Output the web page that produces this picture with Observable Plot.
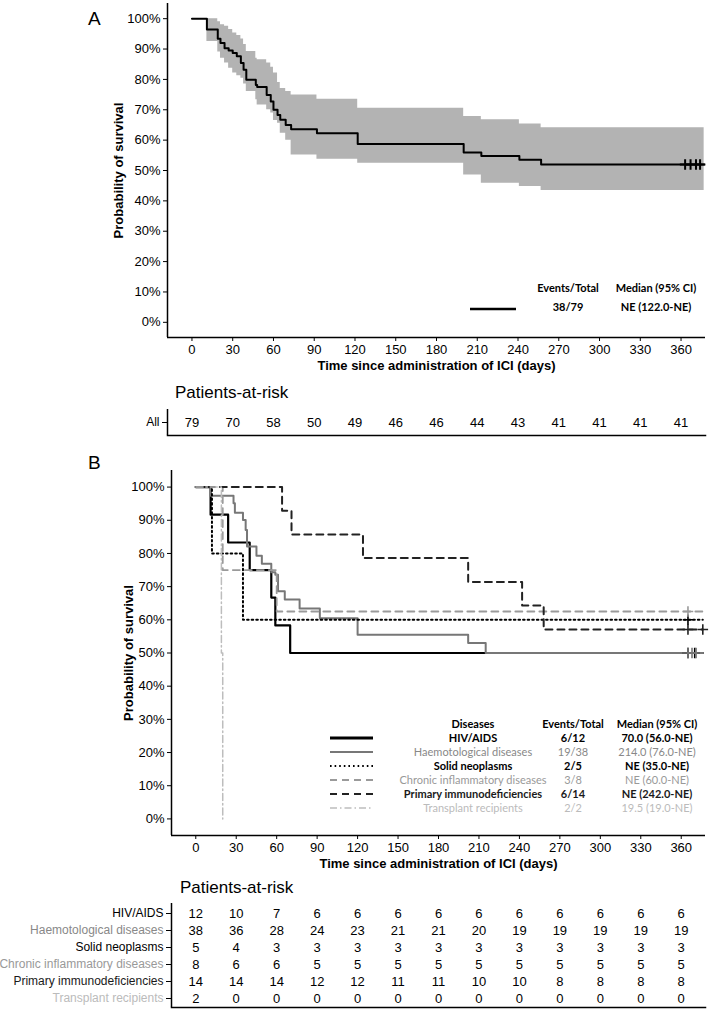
<!DOCTYPE html>
<html><head><meta charset="utf-8">
<script src="https://cdn.jsdelivr.net/npm/d3@7"></script>
<script src="https://cdn.jsdelivr.net/npm/@observablehq/plot@0.6"></script>
<style>
body{margin:0;background:#fff;}
#root{position:relative;width:709px;height:1011px;overflow:hidden;font-family:"Liberation Sans",Arial,sans-serif;}
#root > svg, #root > figure{position:absolute;left:0;margin:0;}
g[aria-label="x-axis label"], g[aria-label="y-axis label"]{font-weight:bold;}
</style></head><body><div id="root"></div>
<script>
// ---------- shared ----------
const dayTicks = [0,30,60,90,120,150,180,210,240,270,300,330,360];
const pctTicks = [0,0.1,0.2,0.3,0.4,0.5,0.6,0.7,0.8,0.9,1];
const xDomain = [-18, 378];
const yDomain = [-0.05, 1.05];

// ---------- Panel A : all patients ----------
const aTime  = [0, 11, 19, 21, 24, 27, 30, 33, 36, 38, 40, 47, 48, 55, 58, 60, 63, 65, 69, 73, 92, 122, 200, 213, 241, 257, 377];
const aSurv  = [1, .964, .934, .920, .903, .895, .887, .876, .854, .832, .799, .782, .775, .749, .727, .700, .683, .667, .650, .636, .623, .587, .559, .548, .535, .520, .520];
const aUpper = [1, 1, .990, .980, .975, .964, .953, .945, .933, .915, .892, .870, .865, .854, .840, .821, .790, .770, .760, .749, .735, .705, .678, .667, .653, .641, .641];
const aLower = [1, .925, .890, .870, .854, .837, .821, .812, .804, .785, .760, .733, .716, .700, .689, .665, .656, .623, .600, .551, .537, .524, .485, .458, .447, .434, .421];
const aCensorTime = [363, 367, 371, 374];
const aCensorSurv = [.520, .520, .520, .520];
const riskAll = [79,70,58,50,49,46,46,44,43,41,41,41,41];

// ---------- Panel B : by disease ----------
const diseases = ["HIV/AIDS","Haemotological diseases","Solid neoplasms","Chronic inflammatory diseases","Primary immunodeficiencies","Transplant recipients"];
const hivTime = [0, 11, 24, 40, 56, 59, 70, 376];
const hivSurv = [1, .917, .833, .750, .667, .583, .500, .500];
const haemTime = [0, 11, 28, 29, 35, 37, 38, 45, 49, 56, 59, 61, 66, 77, 92, 120, 202, 215, 376];
const haemSurv = [1, .974, .951, .923, .901, .871, .821, .793, .769, .743, .736, .686, .661, .634, .605, .555, .530, .500, .500];
const solidTime = [0, 12, 35, 376];
const solidSurv = [1, .800, .600, .600];
const chronicTime = [0, 20, 60, 376];
const chronicSurv = [1, .750, .625, .625];
const primaryTime = [0, 64, 71, 124, 202, 242, 258, 376];
const primarySurv = [1, .929, .857, .786, .714, .643, .571, .571];
const transplantTime = [0, 19, 20];
const transplantSurv = [1, .500, 0];
const censorHIV = [365, 370], censorHaem = [365, 368, 371], censorSolid = [365], censorChronic = [365], censorPrimary = [365, 376];
const riskHIV = [12,10,7,6,6,6,6,6,6,6,6,6,6];
const riskHaem = [38,36,28,24,23,21,21,20,19,19,19,19,19];
const riskSolid = [5,4,3,3,3,3,3,3,3,3,3,3,3];
const riskChronic = [8,6,6,5,5,5,5,5,5,5,5,5,5];
const riskPrimary = [14,14,14,12,12,11,11,10,10,8,8,8,8];
const riskTransplant = [2,0,0,0,0,0,0,0,0,0,0,0,0];
const eventsTotal = ["6/12","19/38","2/5","3/8","6/14","2/2"];
const medians = ["70.0 (56.0-NE)","214.0 (76.0-NE)","NE (35.0-NE)","NE (60.0-NE)","NE (242.0-NE)","19.5 (19.0-NE)"];

// styles per disease
const lineColor = ["#000","#777","#000","#9a9a9a","#222","#bdbdbd"];
const lineWidth = [2.2, 2, 2, 1.8, 2, 1.5];
const lineDash  = [null, null, "1.6,3", "7,5", "7,5", "7,3,1.5,3"];
const labelColor = ["#000","#888","#000","#999","#1a1a1a","#bbb"];
const labelWeight = ["bold","normal","bold","normal","bold","normal"];

const root = document.getElementById("root");
const W = 709;
const font = "'Liberation Sans', Arial, sans-serif";
const pct = d3.format(".0%");

function place(el, top){ el.style.position="absolute"; el.style.top = top+"px"; el.style.left="0px"; root.appendChild(el); }

function survPlot({height, marginLeft, marginTop, marginBottom, lox, loy, marks}) {
  return Plot.plot({
    width: W, height, marginLeft, marginRight: 4, marginTop, marginBottom,
    style: {fontFamily: font, fontSize: "13px", color: "#000", background: "none", overflow: "visible"},
    x: {domain: xDomain, ticks: dayTicks, tickSize: 4, tickPadding: 3, label: "Time since administration of ICI (days)", labelAnchor: "center", labelOffset: lox, labelArrow: false},
    y: {domain: yDomain, ticks: pctTicks, tickFormat: pct, tickSize: 4, tickPadding: 3, label: "Probability of survival", labelAnchor: "center", labelOffset: loy, labelArrow: false},
    marks
  });
}

// ---------- Panel A plot ----------
const aData = aTime.map((t,i)=>({t, s:aSurv[i], lo:aLower[i], hi:aUpper[i]}));
const aCens = aCensorTime.map((t,i)=>({t, s:aCensorSurv[i]}));
const plotA = survPlot({height:375, marginLeft:167, marginTop:3, marginBottom:38, lox:32, loy:54, marks:[
  Plot.areaY(aData, {x:"t", y1:"lo", y2:"hi", curve:"step-after", fill:"#b3b3b3"}),
  Plot.line(aData, {x:"t", y:"s", curve:"step-after", stroke:"#000", strokeWidth:2}),
  Plot.dot(aCens, {x:"t", y:"s", symbol:"plus", r:3.5, stroke:"#000", strokeWidth:2}),
  Plot.ruleX([xDomain[0]], {stroke:"#000", strokeWidth:1.5}),
  Plot.ruleY([yDomain[0]], {stroke:"#000", strokeWidth:1.5})
]});
place(plotA, 0);

// ---------- Panel A risk table ----------
const riskA = dayTicks.map((t,i)=>({t, g:"All", n:riskAll[i]}));
const tableA = Plot.plot({
  width:W, height:30, marginLeft:167, marginRight:4, marginTop:2, marginBottom:2,
  style:{fontFamily:font, fontSize:"12px", color:"#000", background:"none", overflow:"visible"},
  x:{domain:xDomain, axis:null},
  y:{domain:["All"], tickSize:5, tickPadding:3, label:null},
  marks:[
    Plot.text(riskA, {x:"t", y:"g", text:"n", fontSize:13, fill:"#000"}),
    Plot.ruleX([xDomain[0]], {stroke:"#000", strokeWidth:1.5}),
    Plot.frame({anchor:"bottom", stroke:"#000", strokeWidth:1.5})
  ]
});
place(tableA, 407);

// ---------- Panel B plot ----------
const bTimes = [hivTime, haemTime, solidTime, chronicTime, primaryTime, transplantTime];
const bSurvs = [hivSurv, haemSurv, solidSurv, chronicSurv, primarySurv, transplantSurv];
const bCens = [censorHIV, censorHaem, censorSolid, censorChronic, censorPrimary, []];
const bMarks = [];
diseases.forEach((g, k) => {
  const data = bTimes[k].map((t,i)=>({t, s:bSurvs[k][i]}));
  bMarks.push(Plot.line(data, {x:"t", y:"s", curve:"step-after", stroke:lineColor[k], strokeWidth:lineWidth[k], strokeDasharray:lineDash[k] || undefined}));
});
diseases.forEach((g, k) => {
  const last = bSurvs[k][bSurvs[k].length-1];
  const cd = bCens[k].map(t=>({t, s:last}));
  bMarks.push(Plot.dot(cd, {x:"t", y:"s", symbol:"plus", r:3.5, stroke:lineColor[k], strokeWidth:1.6}));
});
bMarks.push(Plot.ruleX([xDomain[0]], {stroke:"#000", strokeWidth:1.5}));
bMarks.push(Plot.ruleY([yDomain[0]], {stroke:"#000", strokeWidth:1.5}));
const plotB = survPlot({height:440, marginLeft:171, marginTop:30, marginBottom:45, lox:32, loy:48, marks:bMarks});
place(plotB, 440);

// ---------- Panel B risk table ----------
const riskBvals = [riskHIV, riskHaem, riskSolid, riskChronic, riskPrimary, riskTransplant];
const riskB = [];
diseases.forEach((g,k)=> dayTicks.forEach((t,i)=> riskB.push({t, g, n:riskBvals[k][i]})));
const tableB = Plot.plot({
  width:W, height:108, marginLeft:171, marginRight:4, marginTop:2, marginBottom:2,
  style:{fontFamily:font, fontSize:"12px", color:"#000", background:"none", overflow:"visible"},
  x:{domain:xDomain, axis:null},
  y:{domain:diseases, tickSize:5, tickFormat:()=>"", label:null},
  color:{type:"identity"},
  marks:[
    Plot.text(riskB, {x:"t", y:"g", text:"n", fontSize:13, fill:"#000"}),
    Plot.text(diseases, {y:d=>d, text:d=>d, frameAnchor:"left", textAnchor:"end", dx:-8, fontSize:12, fill:(d,i)=>labelColor[i]}),
    Plot.ruleX([xDomain[0]], {stroke:"#000", strokeWidth:1.5}),
    Plot.frame({anchor:"bottom", stroke:"#000", strokeWidth:1.5})
  ]
});
place(tableB, 901);

// ---------- annotations / legends (overlay) ----------
const NS = "http://www.w3.org/2000/svg";
const ov = document.createElementNS(NS, "svg");
ov.setAttribute("width", W); ov.setAttribute("height", 1011);
ov.style.position="absolute"; ov.style.left="0"; ov.style.top="0"; ov.style.pointerEvents="none";
function txt(x, y, s, o={}) {
  const t = document.createElementNS(NS, "text");
  t.setAttribute("x", x); t.setAttribute("y", y);
  t.setAttribute("font-family", o.family || font);
  t.setAttribute("font-size", o.size || 12);
  t.setAttribute("font-weight", o.weight || "normal");
  t.setAttribute("fill", o.fill || "#000");
  t.setAttribute("text-anchor", o.anchor || "start");
  t.textContent = s; ov.appendChild(t);
}
function ln(x1, x2, y, color, w, dash) {
  const l = document.createElementNS(NS, "line");
  l.setAttribute("x1", x1); l.setAttribute("x2", x2); l.setAttribute("y1", y); l.setAttribute("y2", y);
  l.setAttribute("stroke", color); l.setAttribute("stroke-width", w);
  if (dash) l.setAttribute("stroke-dasharray", dash);
  ov.appendChild(l);
}
const cal = "Lato, 'Open Sans', sans-serif";
txt(88, 25, "A", {size:19});
txt(88, 469, "B", {size:19});
txt(175, 398, "Patients-at-risk", {size:17});
txt(180, 893, "Patients-at-risk", {size:17});
// Legend A
ln(470, 516, 309, "#000", 2.6);
txt(568, 292, "Events/Total", {family:cal, size:11, weight:"bold", anchor:"middle"});
txt(656, 292, "Median (95% CI)", {family:cal, size:11, weight:"bold", anchor:"middle"});
txt(568, 311, "38/79", {family:cal, size:11, weight:"bold", anchor:"middle"});
txt(656, 311, "NE (122.0-NE)", {family:cal, size:11, weight:"bold", anchor:"middle"});
// Legend B
txt(473, 728, "Diseases", {family:cal, size:11, weight:"bold", anchor:"middle"});
txt(573, 728, "Events/Total", {family:cal, size:11, weight:"bold", anchor:"middle"});
txt(657, 728, "Median (95% CI)", {family:cal, size:11, weight:"bold", anchor:"middle"});
diseases.forEach((g,k)=>{
  const y = 738 + k*14;
  ln(330, 373, y, lineColor[k], k===0 ? 2.8 : lineWidth[k], lineDash[k]);
  const o = {family:cal, size:11, weight:labelWeight[k], fill:labelColor[k], anchor:"middle"};
  txt(473, y+4, g, o);
  txt(573, y+4, eventsTotal[k], o);
  txt(657, y+4, medians[k], o);
});
root.appendChild(ov);
</script></body></html>
